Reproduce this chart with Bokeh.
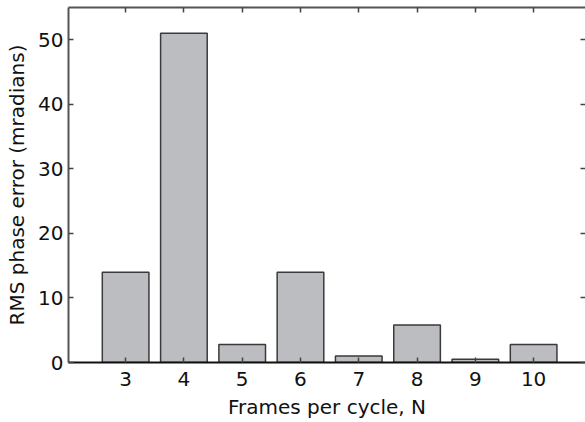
from bokeh.plotting import figure
from bokeh.models import LinearAxis, FixedTicker, Range1d
from bokeh.embed import file_html
from bokeh.resources import INLINE

frames = [3, 4, 5, 6, 7, 8, 9, 10]
rms_error = [14.0, 51.0, 2.8, 14.0, 1.0, 5.8, 0.5, 2.8]
x_ticks = [3, 4, 5, 6, 7, 8, 9, 10]
y_ticks = [0, 10, 20, 30, 40, 50]

FONT = "DejaVu Sans"

p = figure(width=585, height=422, output_backend="svg", toolbar_location=None,
           x_range=Range1d(2.02, 10.89), y_range=Range1d(0, 55),
           x_axis_location=None, y_axis_location=None,
           min_border_left=68, min_border_right=0, min_border_top=7, min_border_bottom=60)
p.outline_line_color = None
p.xgrid.visible = False
p.ygrid.visible = False
p.background_fill_color = "white"
p.border_fill_color = "white"

p.vbar(x=frames, top=rms_error, width=0.8, bottom=0,
       fill_color="#bcbdc1", line_color="#3a3a3a", line_width=1.5)

def style(ax, labels=True):
    ax.major_tick_in = 5
    ax.major_tick_out = 0
    ax.minor_tick_line_color = None
    ax.major_tick_line_color = "#444444"
    ax.major_tick_line_width = 1.5
    ax.axis_line_color = "#555555"
    ax.axis_line_width = 2
    ax.major_label_text_font = FONT
    ax.major_label_text_color = "#111111"
    ax.axis_label_text_font = FONT
    ax.axis_label_text_font_style = "normal"
    ax.axis_label_text_color = "#111111"
    ax.major_label_text_font_size = "20px"
    ax.axis_label_text_font_size = "20px"
    if not labels:
        ax.major_label_overrides = {t: "" for t in ax.ticker.ticks}
        ax.major_label_standoff = 0

xb = LinearAxis(ticker=FixedTicker(ticks=x_ticks), axis_label="Frames per cycle, N")
style(xb)
xb.axis_line_color = "#111111"
xb.major_label_standoff = 9
xb.axis_label_standoff = 6
p.add_layout(xb, "below")

yl = LinearAxis(ticker=FixedTicker(ticks=y_ticks), axis_label="RMS phase error (mradians)")
style(yl)
yl.major_label_standoff = 5
yl.axis_label_standoff = 6
p.add_layout(yl, "left")

xt = LinearAxis(ticker=FixedTicker(ticks=x_ticks))
style(xt, labels=False)
p.add_layout(xt, "above")

yr = LinearAxis(ticker=FixedTicker(ticks=y_ticks))
style(yr, labels=False)
yr.axis_line_color = None
p.add_layout(yr, "right")

open("out.html", "w").write(file_html(p, INLINE))
